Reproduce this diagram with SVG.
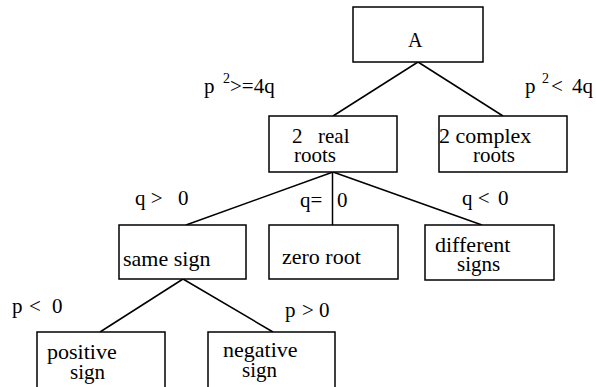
<svg xmlns="http://www.w3.org/2000/svg" width="596" height="387" viewBox="0 0 596 387">
<rect x="0" y="0" width="596" height="387" fill="#fff"/>
<g id="connectors" stroke="#000" stroke-width="1.5">
<line x1="418" y1="62" x2="333" y2="116"/>
<line x1="418" y1="62" x2="503" y2="116"/>
<line x1="333" y1="172" x2="186" y2="225"/>
<line x1="332.5" y1="172" x2="332.5" y2="225"/>
<line x1="333" y1="172" x2="482" y2="225"/>
<line x1="183" y1="279" x2="100" y2="332"/>
<line x1="183" y1="279" x2="273" y2="332"/>
</g>
<g id="labels">
<text x="204" y="93" font-family="Liberation Serif" font-size="21">p</text>
<text x="223" y="83" font-family="Liberation Serif" font-size="14">2</text>
<text x="230" y="93" font-family="Liberation Serif" font-size="21">&gt;=4q</text>
<text x="525" y="93" font-family="Liberation Serif" font-size="21">p</text>
<text x="542" y="83" font-family="Liberation Serif" font-size="14">2</text>
<text x="551" y="93" font-family="Liberation Serif" font-size="21">&lt;</text>
<text x="572" y="93" font-family="Liberation Serif" font-size="21">4q</text>
<text x="135" y="205" font-family="Liberation Serif" font-size="21">q &gt;</text>
<text x="178" y="205" font-family="Liberation Serif" font-size="21">0</text>
<text x="300" y="207" font-family="Liberation Serif" font-size="21">q=</text>
<text x="337" y="207" font-family="Liberation Serif" font-size="21">0</text>
<text x="462" y="205" font-family="Liberation Serif" font-size="21">q &lt;</text>
<text x="498" y="205" font-family="Liberation Serif" font-size="21">0</text>
<text x="12" y="313" font-family="Liberation Serif" font-size="21">p</text>
<text x="29" y="313" font-family="Liberation Serif" font-size="21">&lt;</text>
<text x="52" y="313" font-family="Liberation Serif" font-size="21">0</text>
<text x="285" y="317" font-family="Liberation Serif" font-size="21">p</text>
<text x="302" y="317" font-family="Liberation Serif" font-size="21">&gt;</text>
<text x="319" y="317" font-family="Liberation Serif" font-size="21">0</text>
</g>
<g id="node-A">
<rect x="353" y="7" width="130" height="55" fill="#fff" stroke="#000" stroke-width="1.5"/>
<text x="408" y="47" font-family="Liberation Serif" font-size="20">A</text>
</g>
<g id="node-real">
<rect x="269" y="116" width="128" height="56" fill="#fff" stroke="#000" stroke-width="1.5"/>
<text x="292" y="143" font-family="Liberation Serif" font-size="21">2</text>
<text x="318" y="143" font-family="Liberation Serif" font-size="21">real</text>
<text x="294" y="162" font-family="Liberation Serif" font-size="21">roots</text>
</g>
<g id="node-complex">
<rect x="439" y="116" width="128" height="56" fill="#fff" stroke="#000" stroke-width="1.5"/>
<text x="439" y="143" font-family="Liberation Serif" font-size="22">2 complex</text>
<text x="473" y="162" font-family="Liberation Serif" font-size="21">roots</text>
</g>
<g id="node-same">
<rect x="119" y="225" width="127" height="54" fill="#fff" stroke="#000" stroke-width="1.5"/>
<text x="123" y="266" font-family="Liberation Serif" font-size="22">same sign</text>
</g>
<g id="node-zero">
<rect x="269" y="225" width="129" height="54" fill="#fff" stroke="#000" stroke-width="1.5"/>
<text x="282" y="264" font-family="Liberation Serif" font-size="22">zero root</text>
</g>
<g id="node-different">
<rect x="425" y="225" width="129" height="55" fill="#fff" stroke="#000" stroke-width="1.5"/>
<text x="435" y="252" font-family="Liberation Serif" font-size="22">different</text>
<text x="457" y="271" font-family="Liberation Serif" font-size="21">signs</text>
</g>
<g id="node-positive">
<rect x="37" y="332" width="128" height="64" fill="#fff" stroke="#000" stroke-width="1.5"/>
<text x="47" y="359" font-family="Liberation Serif" font-size="22">positive</text>
<text x="70" y="379" font-family="Liberation Serif" font-size="21">sign</text>
</g>
<g id="node-negative">
<rect x="208" y="332" width="127" height="64" fill="#fff" stroke="#000" stroke-width="1.5"/>
<text x="223" y="357" font-family="Liberation Serif" font-size="22">negative</text>
<text x="242" y="377" font-family="Liberation Serif" font-size="21">sign</text>
</g>
</svg>
